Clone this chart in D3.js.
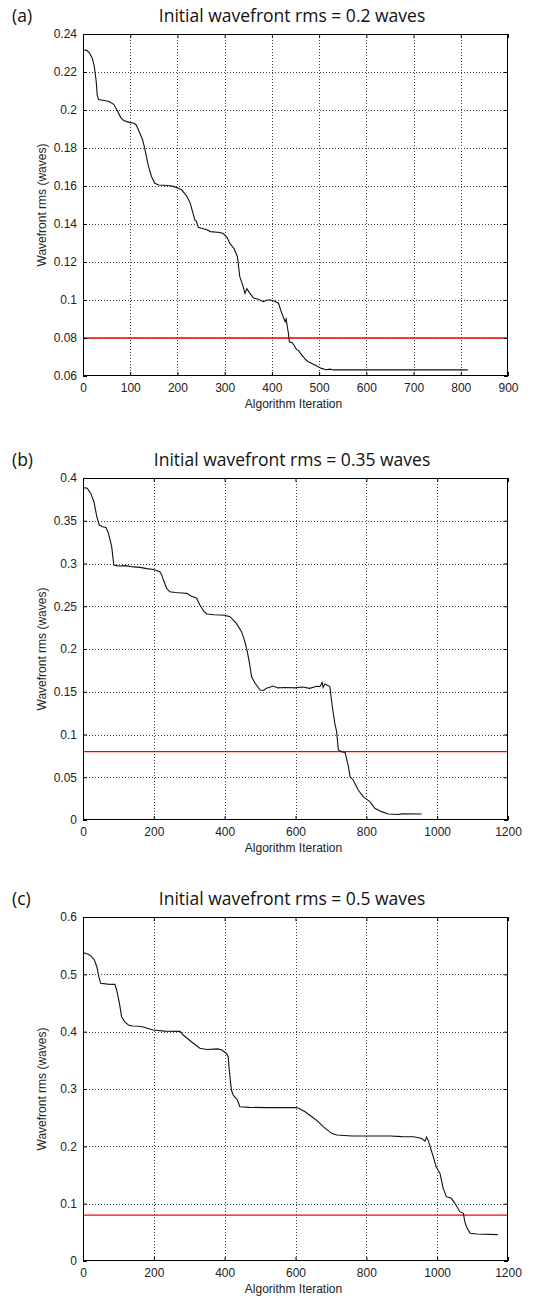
<!DOCTYPE html>
<html>
<head>
<meta charset="utf-8">
<script src="https://cdn.jsdelivr.net/npm/d3@7"></script>
<style>
  body { margin: 0; background: #fff; }
  svg { display: block; }
  .tick text { font-family: "Liberation Sans", Arial, sans-serif; font-size: 12px; fill: #222; }
</style>
</head>
<body>
<svg id="chart" width="535" height="1301"></svg>
<script>
// panel (a): initial rms 0.2 waves
const iterA = [0, 8, 14, 20, 24, 28, 30, 33, 45, 55, 65, 72, 80, 86, 98, 108, 113, 120, 126, 130,
  138, 145, 152, 160, 180, 192, 200, 209, 220, 227, 237, 240, 244, 255, 262, 270, 290, 297, 305, 311,
  320, 327, 332, 338, 343, 347, 352, 361, 370, 382, 390, 396, 405, 414, 421, 428, 430, 435, 437, 443,
  449, 452, 456, 463, 470, 477, 491, 505, 515, 523, 530, 815];
const rmsA = [0.2316, 0.2314, 0.2300, 0.2270, 0.2228, 0.2150, 0.2080, 0.2055, 0.2050, 0.2045, 0.2030, 0.2000, 0.1960, 0.1945, 0.1935, 0.1930, 0.1920, 0.1880, 0.1845, 0.1806,
  0.1710, 0.1650, 0.1614, 0.1605, 0.1603, 0.1598, 0.1590, 0.1580, 0.1545, 0.1510, 0.1420, 0.1415, 0.1383, 0.1375, 0.1370, 0.1360, 0.1355, 0.1350, 0.1330, 0.1298,
  0.1270, 0.1228, 0.1123, 0.1080, 0.1035, 0.1060, 0.1040, 0.1010, 0.1005, 0.0991, 0.1000, 0.1000, 0.0995, 0.0983, 0.0930, 0.0886, 0.0900, 0.0825, 0.0780, 0.0775,
  0.0754, 0.0740, 0.0735, 0.0711, 0.0690, 0.0675, 0.0658, 0.0640, 0.0633, 0.0636, 0.0632, 0.0632];

// panel (b): initial rms 0.35 waves
const iterB = [0, 12, 22, 31, 39, 46, 55, 65, 72, 81, 87, 95, 104, 120, 142, 161, 180, 199, 217, 222,
  227, 236, 245, 260, 280, 293, 305, 321, 330, 342, 350, 370, 387, 400, 415, 433, 448, 457, 464, 470,
  476, 486, 500, 510, 518, 525, 537, 550, 570, 600, 620, 640, 660, 669, 675, 678, 683, 697, 704, 711,
  716, 721, 730, 740, 749, 754, 763, 777, 791, 810, 824, 843, 862, 890, 900, 956];
const rmsB = [0.3887, 0.3880, 0.3820, 0.3720, 0.3547, 0.3450, 0.3430, 0.3420, 0.3353, 0.3197, 0.2982, 0.2975, 0.2970, 0.2975, 0.2960, 0.2955, 0.2940, 0.2930, 0.2904, 0.2870,
  0.2807, 0.2710, 0.2670, 0.2660, 0.2655, 0.2651, 0.2620, 0.2593, 0.2515, 0.2436, 0.2410, 0.2400, 0.2398, 0.2395, 0.2378, 0.2300, 0.2200, 0.2086, 0.1970, 0.1833,
  0.1676, 0.1599, 0.1520, 0.1515, 0.1540, 0.1550, 0.1567, 0.1545, 0.1550, 0.1545, 0.1555, 0.1540, 0.1565, 0.1560, 0.1610, 0.1550, 0.1590, 0.1560, 0.1325, 0.1130,
  0.1035, 0.0819, 0.0799, 0.0790, 0.0632, 0.0507, 0.0468, 0.0351, 0.0273, 0.0215, 0.0137, 0.0098, 0.0070, 0.0065, 0.0072, 0.0070];

// panel (c): initial rms 0.5 waves
const iterC = [0, 15, 24, 32, 39, 45, 50, 70, 90, 95, 103, 109, 118, 123, 128, 140, 160, 170, 198, 230,
  274, 283, 306, 330, 350, 380, 392, 405, 410, 413, 419, 424, 430, 436, 443, 470, 520, 600, 608, 627,
  646, 664, 678, 702, 717, 760, 867, 900, 933, 955, 966, 970, 975, 980, 989, 997, 1008, 1017, 1026, 1040,
  1050, 1064, 1074, 1078, 1083, 1093, 1111, 1171];
const rmsC = [0.5380, 0.5350, 0.5310, 0.5250, 0.5133, 0.4950, 0.4843, 0.4830, 0.4825, 0.4727, 0.4490, 0.4261, 0.4170, 0.4145, 0.4116, 0.4100, 0.4095, 0.4080, 0.4029, 0.4010,
  0.4005, 0.3942, 0.3825, 0.3710, 0.3690, 0.3700, 0.3680, 0.3620, 0.3563, 0.3331, 0.2982, 0.2895, 0.2850, 0.2808, 0.2691, 0.2680, 0.2675, 0.2675, 0.2670, 0.2604,
  0.2517, 0.2430, 0.2343, 0.2227, 0.2198, 0.2180, 0.2180, 0.2170, 0.2168, 0.2140, 0.2090, 0.2160, 0.2100, 0.1994, 0.1819, 0.1645, 0.1529, 0.1267, 0.1122, 0.1093,
  0.1006, 0.0860, 0.0832, 0.0686, 0.0599, 0.0483, 0.0470, 0.0460];

const panelLetters = ["(a)", "(b)", "(c)"];
const panelTitles = ["Initial wavefront rms = 0.2 waves", "Initial wavefront rms = 0.35 waves", "Initial wavefront rms = 0.5 waves"];
const xMax = [900, 1200, 1200];
const xStep = [100, 200, 200];
const yMin = [0.06, 0, 0];
const yMax = [0.24, 0.4, 0.6];
const yStep = [0.02, 0.05, 0.1];
const threshold = 0.08;
const xLabel = "Algorithm Iteration";
const yLabel = "Wavefront rms (waves)";

const series = [[iterA, rmsA], [iterB, rmsB], [iterC, rmsC]];

const svg = d3.select("#chart");
const left = 83, right = 508;
const tops = [34, 478, 917];
const heights = [342, 342, 344];

// matlab style tick values, built from step so float noise stays out
function ticksOf(lo, hi, step) {
  const n = Math.round((hi - lo) / step);
  return d3.range(n + 1).map(i => +(lo + i * step).toFixed(4));
}

series.forEach(([xs, ys], p) => {
  const top = tops[p], h = heights[p];
  const g = svg.append("g");

  const x = d3.scaleLinear().domain([0, xMax[p]]).range([left, right]);
  const y = d3.scaleLinear().domain([yMin[p], yMax[p]]).range([top + h, top]);

  const xt = ticksOf(0, xMax[p], xStep[p]);
  const yt = ticksOf(yMin[p], yMax[p], yStep[p]);

  // dotted grid
  g.append("g").selectAll("line").data(xt.slice(1, -1)).join("line")
    .attr("x1", d => Math.round(x(d)) + 0.5).attr("x2", d => Math.round(x(d)) + 0.5)
    .attr("y1", top).attr("y2", top + h)
    .attr("stroke", "#444").attr("stroke-dasharray", "1,2");
  g.append("g").selectAll("line").data(yt.slice(1, -1)).join("line")
    .attr("y1", d => Math.round(y(d)) + 0.5).attr("y2", d => Math.round(y(d)) + 0.5)
    .attr("x1", left).attr("x2", right)
    .attr("stroke", "#444").attr("stroke-dasharray", "1,2");

  // threshold line
  g.append("line")
    .attr("x1", left).attr("x2", right)
    .attr("y1", y(threshold)).attr("y2", y(threshold))
    .attr("stroke", "#ff0000").attr("stroke-width", 1.3);

  // convergence curve
  const line = d3.line().x(d => x(d[0])).y(d => y(d[1]));
  g.append("path")
    .datum(xs.map((v, i) => [v, ys[i]]))
    .attr("d", line)
    .attr("fill", "none").attr("stroke", "#111").attr("stroke-width", 1.1);

  // axes, ticks pointing inward like matlab
  const fmt = d => String(d);
  g.append("g").attr("transform", `translate(0,${top + h})`)
    .call(d3.axisBottom(x).tickValues(xt).tickFormat(fmt).tickSizeInner(-4).tickSizeOuter(0).tickPadding(7))
    .call(a => a.select(".domain").remove());
  g.append("g").attr("transform", `translate(0,${top})`)
    .call(d3.axisTop(x).tickValues(xt).tickFormat("").tickSizeInner(-4).tickSizeOuter(0))
    .call(a => a.select(".domain").remove());
  g.append("g").attr("transform", `translate(${left},0)`)
    .call(d3.axisLeft(y).tickValues(yt).tickFormat(fmt).tickSizeInner(-4).tickSizeOuter(0).tickPadding(6))
    .call(a => a.select(".domain").remove());
  g.append("g").attr("transform", `translate(${right},0)`)
    .call(d3.axisRight(y).tickValues(yt).tickFormat("").tickSizeInner(-4).tickSizeOuter(0))
    .call(a => a.select(".domain").remove());
  g.selectAll(".tick line").attr("stroke", "#000");

  // box
  g.append("rect")
    .attr("x", left + 0.5).attr("y", top + 0.5)
    .attr("width", right - left - 1).attr("height", h - 1)
    .attr("fill", "none").attr("stroke", "#000");

  // titles and labels
  g.append("text").attr("x", 12).attr("y", top - 12)
    .attr("font-family", "'Open Sans', sans-serif").attr("font-size", 17.5).attr("fill", "#111")
    .text(panelLetters[p]);
  g.append("text").attr("x", 292).attr("y", top - 12)
    .attr("text-anchor", "middle")
    .attr("font-family", "'Open Sans', sans-serif").attr("font-size", 17.5).attr("fill", "#111")
    .text(panelTitles[p]);
  g.append("text").attr("x", (left + right) / 2 - 2).attr("y", top + h + 32)
    .attr("text-anchor", "middle")
    .attr("font-family", "'Liberation Sans', Arial, sans-serif").attr("font-size", 12).attr("fill", "#222")
    .text(xLabel);
  g.append("text")
    .attr("transform", `translate(46,${top + h / 2}) rotate(-90)`)
    .attr("text-anchor", "middle")
    .attr("font-family", "'Liberation Sans', Arial, sans-serif").attr("font-size", 12).attr("fill", "#222")
    .text(yLabel);
});
</script>
</body>
</html>
